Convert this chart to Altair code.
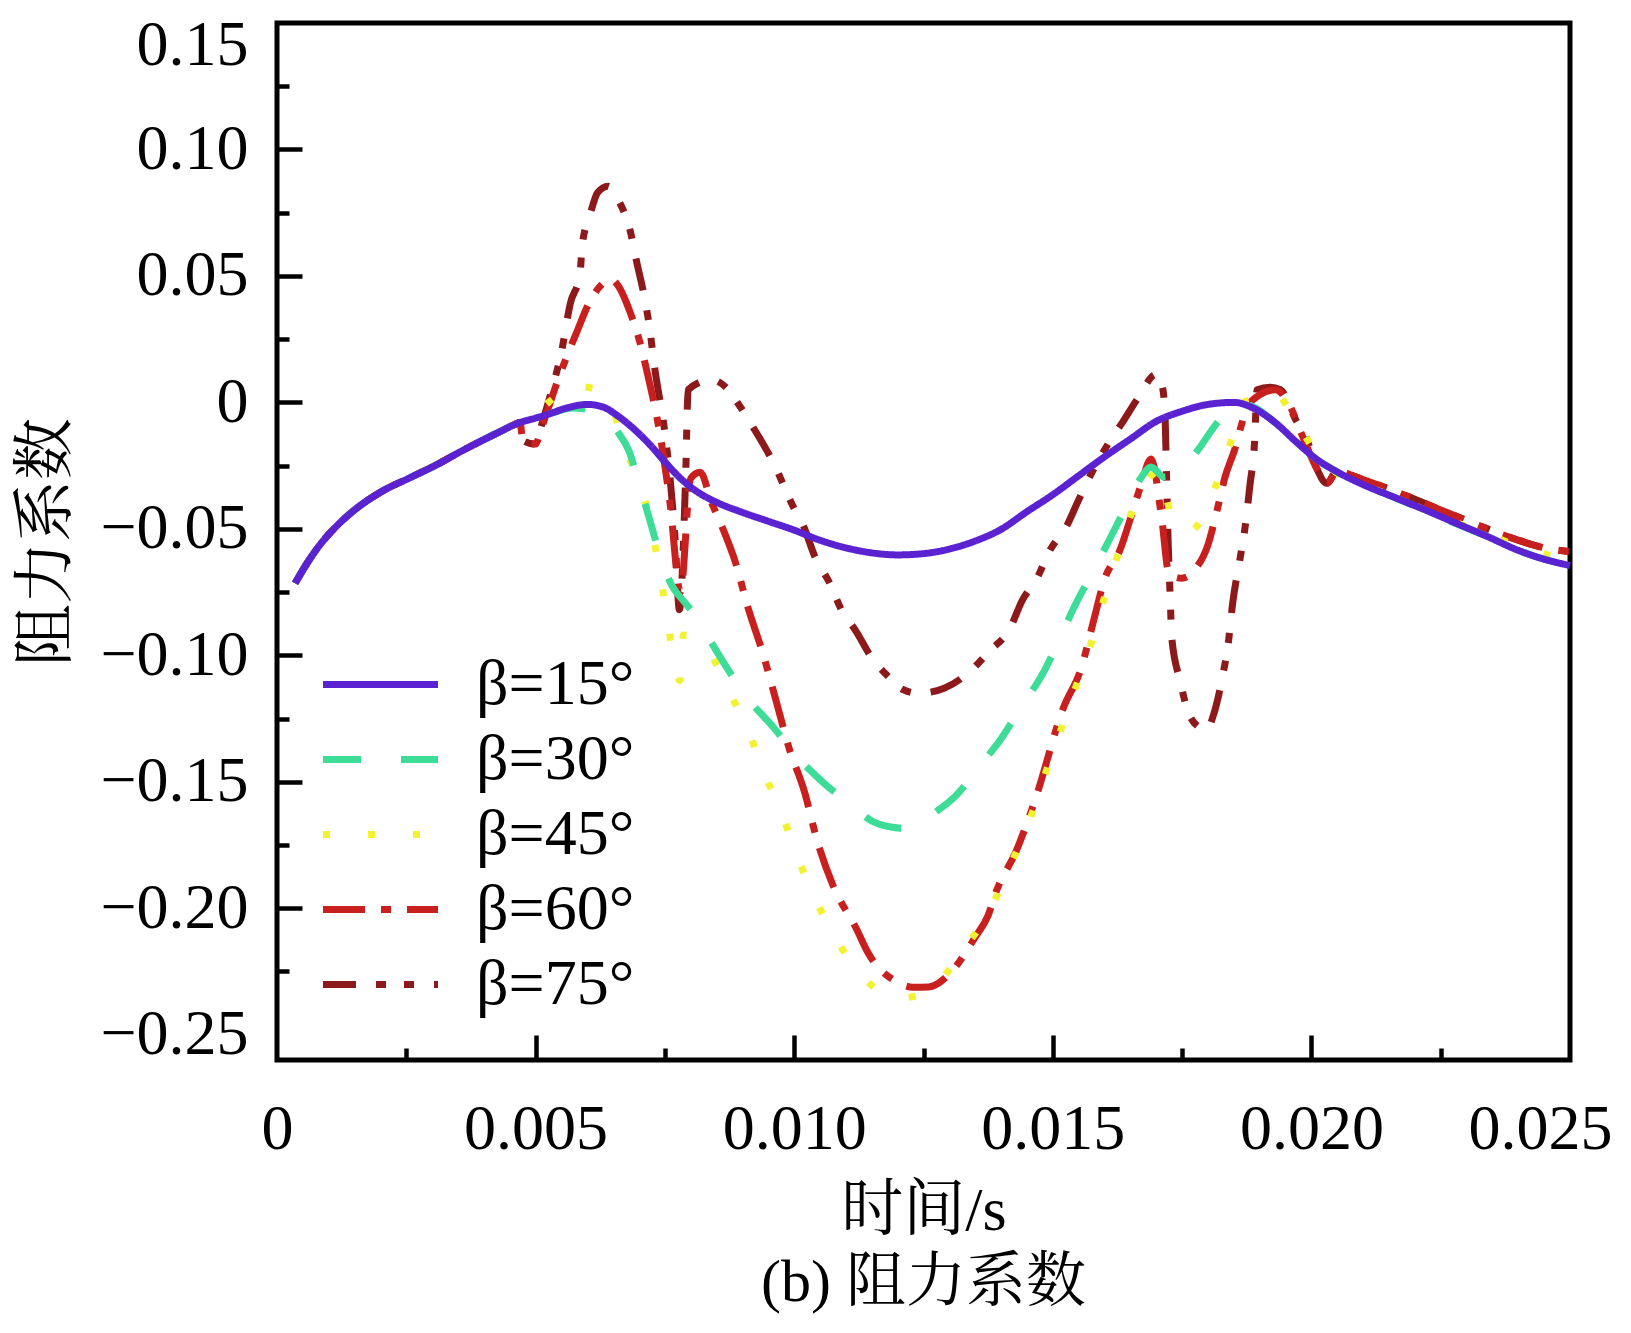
import altair as alt
import pandas as pd

# ---------------- data ----------------
LABELS = ["β=15°", "β=30°", "β=45°", "β=60°", "β=75°"]
COLORS = ["#5a22d0", "#3ddc97", "#f2f230", "#c8201e", "#8c1a1a"]
DASHES = [[1, 0], [38, 40], [7, 38], [42, 16, 10, 16], [33, 20, 10, 18, 10, 20]]

X_MAJOR = [0, 0.005, 0.010, 0.015, 0.020, 0.025]
X_MINOR = [0.0025, 0.0075, 0.0125, 0.0175, 0.0225]
Y_MAJOR = [-0.25, -0.20, -0.15, -0.10, -0.05, 0, 0.05, 0.10, 0.15]
Y_MINOR = [-0.225, -0.175, -0.125, -0.075, -0.025, 0.025, 0.075, 0.125]

# common start segment (all five curves coincide)
T_START = [0.00035, 0.0006, 0.00083, 0.0011, 0.0015, 0.0020, 0.0026, 0.0031, 0.0035, 0.0040, 0.0043, 0.0046]
V_START = [-0.0715, -0.063, -0.0563, -0.050, -0.0425, -0.0355, -0.0295, -0.0245, -0.0200, -0.0147, -0.0117, -0.0087]

T15 = [0.0048, 0.0050, 0.0053, 0.0056, 0.0060, 0.0063, 0.0066, 0.0069, 0.0072, 0.0075, 0.0078, 0.0081,
       0.0085, 0.0090, 0.0095, 0.0100, 0.0105, 0.0110, 0.0115, 0.0120, 0.0125, 0.0130, 0.0135, 0.0140,
       0.0145, 0.0150, 0.0155, 0.0160, 0.0165, 0.0170, 0.0175, 0.0180, 0.0185, 0.0189, 0.0193, 0.0197,
       0.0201, 0.0205, 0.0210, 0.0216, 0.0222, 0.0228, 0.0234, 0.0240, 0.0245, 0.0250]
V15 = [-0.0073, -0.0062, -0.0043, -0.0022, -0.0008, -0.0018, -0.0055, -0.0105, -0.0165, -0.0235, -0.030, -0.035,
       -0.0395, -0.0435, -0.047, -0.0505, -0.0545, -0.0575, -0.0595, -0.0603, -0.0598, -0.0580, -0.0548, -0.0502,
       -0.0432, -0.0365, -0.0290, -0.0215, -0.0145, -0.0075, -0.0035, -0.0008, 0.0, -0.0025, -0.008, -0.0155,
       -0.0225, -0.0275, -0.0325, -0.0375, -0.0425, -0.0478, -0.0530, -0.0585, -0.0620, -0.0645]

T30 = [0.0048, 0.0051, 0.0054, 0.0057, 0.0060, 0.0063, 0.0066, 0.0068, 0.0070, 0.0072, 0.0074, 0.0076,
       0.0079, 0.0081, 0.0084, 0.0087, 0.0091, 0.0096, 0.0101, 0.0106, 0.0111, 0.0115, 0.0119, 0.0122,
       0.0125, 0.0128, 0.0131, 0.0134, 0.0137, 0.0140, 0.0144, 0.0148, 0.0151, 0.0154, 0.0158, 0.0161,
       0.0164, 0.0167, 0.0169, 0.01715, 0.0175, 0.0178, 0.0182, 0.0186, 0.0189, 0.0193, 0.0197, 0.0201,
       0.0205, 0.0210, 0.0216, 0.0222, 0.0228, 0.0234, 0.0240, 0.0245, 0.0250]
V30 = [-0.0075, -0.0057, -0.0037, -0.0022, -0.0028, -0.0058, -0.012, -0.019, -0.032, -0.046, -0.060, -0.071,
       -0.0795, -0.0845, -0.095, -0.105, -0.117, -0.1285, -0.141, -0.151, -0.159, -0.1655, -0.1680, -0.1685,
       -0.1655, -0.161, -0.156, -0.149, -0.141, -0.133, -0.120, -0.1075, -0.095, -0.0815, -0.066, -0.054,
       -0.042, -0.030, -0.0255, -0.0295, -0.0265, -0.019, -0.0075, 0.0, -0.002, -0.008, -0.0155, -0.0225,
       -0.0275, -0.0325, -0.0375, -0.0428, -0.048, -0.053, -0.0585, -0.062, -0.0645]

T45 = [0.0048, 0.0051, 0.0054, 0.0057, 0.0060, 0.0063, 0.0065, 0.0067, 0.0070, 0.00725, 0.0074, 0.00755,
       0.00768, 0.00779, 0.00786, 0.0081, 0.0083, 0.0087, 0.0091, 0.0094, 0.00975, 0.01005, 0.0104, 0.0108,
       0.0113, 0.0117, 0.0120, 0.0124, 0.0128, 0.0132, 0.0135, 0.0138, 0.0142, 0.01452, 0.0148, 0.0151,
       0.0154, 0.0157, 0.0160, 0.0162, 0.0165, 0.0169, 0.01705, 0.0173, 0.01765, 0.0181, 0.0184, 0.01868,
       0.0190, 0.0193, 0.0196, 0.0199, 0.0202, 0.0205, 0.0210, 0.0216, 0.0222, 0.0228, 0.0234, 0.0240,
       0.0245, 0.0250]
V45 = [-0.0068, -0.0025, 0.0025, 0.0065, 0.0060, 0.0035, -0.003, -0.0165, -0.0315, -0.050, -0.0675, -0.0855,
       -0.1035, -0.110, -0.092, -0.0935, -0.0965, -0.113, -0.129, -0.1457, -0.162, -0.179, -0.196, -0.2118,
       -0.2265, -0.2335, -0.2355, -0.2345, -0.2295, -0.218, -0.210, -0.200, -0.182, -0.167, -0.150, -0.1327,
       -0.115, -0.098, -0.077, -0.064, -0.045, -0.029, -0.027, -0.045, -0.051, -0.0355, -0.0185, 0.0,
       0.002, 0.004, -0.004, -0.014, -0.0235, -0.028, -0.0325, -0.0375, -0.0425, -0.0475, -0.052, -0.057,
       -0.060, -0.062]

T60 = [0.0047, 0.00475, 0.0050, 0.0051, 0.00525, 0.0054, 0.0056, 0.0058, 0.00605, 0.0063, 0.00645, 0.0066,
       0.00683, 0.0070, 0.0072, 0.0074, 0.0076, 0.0078, 0.0080, 0.00818, 0.0084, 0.0087, 0.00886, 0.0091,
       0.0094, 0.00965, 0.0099, 0.0102, 0.01044, 0.01075, 0.0112, 0.01143, 0.0120, 0.0123, 0.0126, 0.0130,
       0.0135, 0.01375, 0.0139, 0.0143, 0.01466, 0.0152, 0.01555, 0.0158, 0.0160, 0.0163, 0.0165, 0.0167,
       0.0169, 0.0171, 0.01725, 0.0175, 0.01775, 0.0180, 0.0182, 0.01833, 0.0185, 0.01876, 0.0190, 0.0193,
       0.0196, 0.0198, 0.0201, 0.0203, 0.0205, 0.0208, 0.0212, 0.0216, 0.0222, 0.0228, 0.0234, 0.0240,
       0.0245, 0.0250]
V60 = [-0.0080, -0.0150, -0.0165, -0.011, -0.002, 0.007, 0.018, 0.028, 0.040, 0.0470, 0.0488, 0.046,
       0.0355, 0.0250, 0.008, -0.012, -0.040, -0.075, -0.030, -0.0276, -0.0394, -0.054, -0.063, -0.0807,
       -0.0996, -0.118, -0.1366, -0.154, -0.173, -0.191, -0.208, -0.2177, -0.2293, -0.2312, -0.2311, -0.226,
       -0.2114, -0.2028, -0.1937, -0.177, -0.157, -0.121, -0.105, -0.0854, -0.070, -0.0583, -0.046, -0.033,
       -0.0224, -0.045, -0.068, -0.0695, -0.066, -0.0563, -0.0406, -0.0295, -0.0197, -0.002, 0.003, 0.005,
       -0.002, -0.012, -0.026, -0.032, -0.027, -0.029, -0.032, -0.035, -0.040, -0.045, -0.050, -0.0545,
       -0.0575, -0.059]

T75 = [0.0047, 0.00475, 0.0050, 0.0051, 0.0053, 0.0055, 0.00567, 0.00586, 0.0059, 0.00605, 0.0062, 0.0064,
       0.0066, 0.00683, 0.00696, 0.0071, 0.0072, 0.0073, 0.0075, 0.0076, 0.0077, 0.00778, 0.0079, 0.00795,
       0.0084, 0.0087, 0.0089, 0.00915, 0.0096, 0.0100, 0.01017, 0.0104, 0.0107, 0.0109, 0.0112, 0.0115,
       0.01185, 0.0121, 0.01241, 0.0129, 0.01342, 0.01377, 0.01417, 0.0144, 0.01471, 0.01493, 0.01528, 0.01549,
       0.0158, 0.01616, 0.01636, 0.01663, 0.0170, 0.01712, 0.01717, 0.0172, 0.01723, 0.01727, 0.0173, 0.01746,
       0.01761, 0.0178, 0.01798, 0.0181, 0.01829, 0.01839, 0.01848, 0.01862, 0.01872, 0.01881, 0.0189, 0.01895,
       0.0192, 0.0194, 0.0197, 0.0199, 0.0201, 0.0203, 0.0205, 0.0208, 0.0212, 0.0216, 0.0222, 0.0228,
       0.0234, 0.0240, 0.0245, 0.0250]
V75 = [-0.0080, -0.0150, -0.0165, -0.010, 0.004, 0.020, 0.039, 0.051, 0.062, 0.074, 0.083, 0.0855,
       0.080, 0.0677, 0.055, 0.042, 0.030, 0.014, -0.012, -0.030, -0.055, -0.082, -0.030, 0.005,
       0.009, 0.0055, 0.0, -0.008, -0.024, -0.042, -0.0484, -0.061, -0.072, -0.0815, -0.0906, -0.101,
       -0.109, -0.1135, -0.115, -0.113, -0.106, -0.0984, -0.0894, -0.0787, -0.0689, -0.059, -0.0484, -0.039,
       -0.026, -0.0135, -0.0075, 0.0012, 0.011, 0.006, -0.005, -0.030, -0.055, -0.077, -0.093, -0.110,
       -0.122, -0.128, -0.1295, -0.124, -0.1075, -0.0957, -0.079, -0.0618, -0.049, -0.033, -0.016, 0.005,
       0.006, 0.005, -0.007, -0.014, -0.026, -0.032, -0.027, -0.029, -0.032, -0.035, -0.040, -0.045,
       -0.050, -0.0545, -0.0575, -0.059]

# ---------------- table ----------------
SERIES = [
    ("β=75°", T_START + T75, V_START + V75),
    ("β=60°", T_START + T60, V_START + V60),
    ("β=45°", T_START + T45, V_START + V45),
    ("β=30°", T_START + T30, V_START + V30),
    ("β=15°", T_START + T15, V_START + V15),
]
rows = []
for name, ts, vs in SERIES:
    for i, (t, v) in enumerate(zip(ts, vs)):
        rows.append({"t": t, "cd": v, "beta": name, "idx": i})
df = pd.DataFrame(rows)

FONT = "Liberation Serif, Noto Serif CJK SC, Noto Sans CJK SC"
W, H = 1293, 1037
LW = 7

xs = alt.Scale(domain=[0, 0.025], nice=False, zero=False)
ys = alt.Scale(domain=[-0.26, 0.15], nice=False, zero=False)

legend = alt.Legend(
    orient="none", legendX=71, legendY=629, title=None,
    symbolType="M-2,0L2,0", symbolSize=3306, symbolStrokeWidth=LW,
    labelFont=FONT, labelFontSize=64, labelColor="black", labelLimit=500,
    labelOffset=63, rowPadding=10, padding=0,
)

base = alt.Chart(df)

lines = base.mark_line(strokeWidth=LW, interpolate="monotone").encode(
    x=alt.X("t:Q", scale=xs, axis=alt.Axis(
        orient="bottom", values=X_MAJOR, ticks=False, domain=False, grid=False,
        labelExpr="datum.value == 0 ? '0' : format(datum.value, '.3f')",
        labelFont=FONT, labelFontSize=64, labelColor="black", labelPadding=37,
        labelFlush=False, labelOverlap=False,
        labelOffset={"condition": {"test": "datum.value > 0.0249", "value": -30}, "value": 0},
        title="时间/s", titleFont=FONT, titleFontSize=62, titleFontWeight="normal",
        titleColor="black", titlePadding=19)),
    y=alt.Y("cd:Q", scale=ys, axis=alt.Axis(
        orient="left", values=Y_MAJOR, ticks=False, domain=False, grid=False,
        labelExpr="datum.value == 0 ? '0' : format(datum.value, '.2f')",
        labelFont=FONT, labelFontSize=64, labelColor="black", labelPadding=29,
        labelFlush=False, labelOverlap=False,
        labelOffset={"condition": {"test": "datum.value > 0.149", "value": 22}, "value": 0},
        title="阻力系数", titleFont=FONT, titleFontSize=62, titleFontWeight="normal",
        titleColor="black", titlePadding=21)),
    color=alt.Color("beta:N", scale=alt.Scale(domain=LABELS, range=COLORS), legend=legend),
    strokeDash=alt.StrokeDash("beta:N", scale=alt.Scale(domain=LABELS, range=DASHES), legend=legend),
    order=alt.Order("idx:Q"),
)


def tick_layer(size, xvals, yvals):
    return base.mark_point(opacity=0, size=1).encode(
        x=alt.X("t:Q", scale=xs, axis=alt.Axis(
            orient="bottom", values=xvals, labels=False, domain=False, grid=False,
            ticks=True, tickSize=size, tickWidth=4.5, tickColor="black",
            offset=-size, title=None)),
        y=alt.Y("cd:Q", scale=ys, axis=alt.Axis(
            orient="left", values=yvals, labels=False, domain=False, grid=False,
            ticks=True, tickSize=size, tickWidth=4.5, tickColor="black",
            offset=-size, title=None)),
    )


major = tick_layer(25, X_MAJOR[1:-1], Y_MAJOR[1:-1])
minor = tick_layer(12, X_MINOR, Y_MINOR)

chart = (
    alt.layer(lines, major, minor)
    .resolve_scale(x="independent", y="independent")
    .properties(
        width=W, height=H,
        padding={"left": 269, "top": 15, "right": 48, "bottom": 258},
        autosize=alt.AutoSizeParams(type="none"),
        title=alt.TitleParams(
            "(b) 阻力系数", orient="bottom", anchor="middle", font=FONT,
            fontSize=60, fontWeight="normal", color="black", offset=13),
    )
    .configure(background="white", view=alt.ViewConfig(stroke="black", strokeWidth=5))
)

chart.save("out.html", embed_options={"renderer": "svg", "actions": False})
